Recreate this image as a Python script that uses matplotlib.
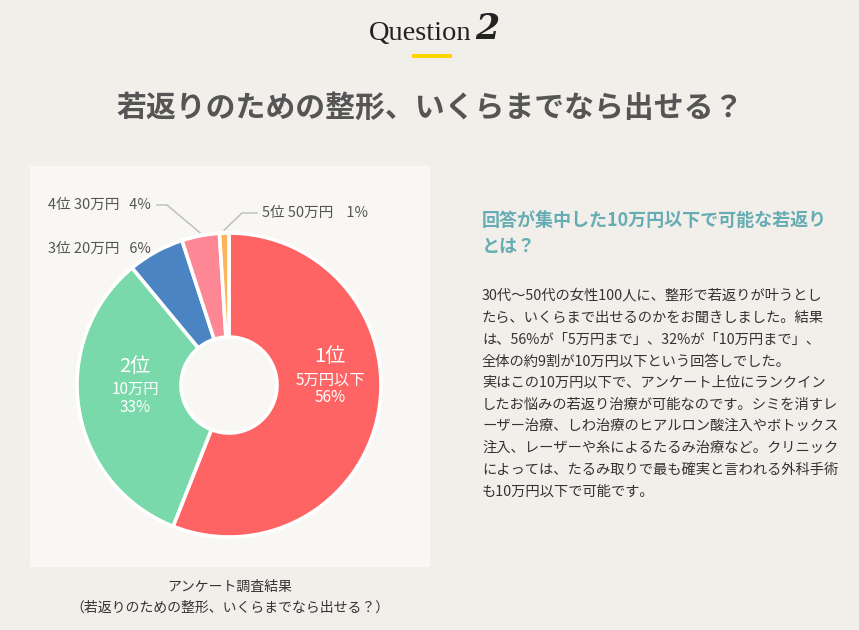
import numpy as np
import matplotlib
matplotlib.use("Agg")
import matplotlib.pyplot as plt
from matplotlib.patches import Rectangle

plt.rcParams['font.family'] = ['Noto Sans CJK JP', 'DejaVu Sans']

# ---- data ----
ranks = ["1位", "2位", "3位", "4位", "5位"]
amounts = ["5万円以下", "10万円", "20万円", "30万円", "50万円"]
values = [56, 33, 6, 4, 1]
colors = ["#fe6463", "#79d9ab", "#4a84c2", "#fd8794", "#fbb45c"]

title = "若返りのための整形、いくらまでなら出せる？"
heading = ["回答が集中した10万円以下で可能な若返り", "とは？"]
body = [
    "30代～50代の女性100人に、整形で若返りが叶うとし",
    "たら、いくらまで出せるのかをお聞きしました。結果",
    "は、56%が「5万円まで」、32%が「10万円まで」、",
    "全体の約9割が10万円以下という回答しでした。",
    "実はこの10万円以下で、アンケート上位にランクイン",
    "したお悩みの若返り治療が可能なのです。シミを消すレ",
    "ーザー治療、しわ治療のヒアルロン酸注入やボトックス",
    "注入、レーザーや糸によるたるみ治療など。クリニック",
    "によっては、たるみ取りで最も確実と言われる外科手術",
    "も10万円以下で可能です。",
]
caption = ["アンケート調査結果", "（若返りのための整形、いくらまでなら出せる？）"]

W, H = 859, 630
fig = plt.figure(figsize=(W / 100, H / 100), dpi=100)
fig.patch.set_facecolor("#f2efeb")

def px(x, y):
    return x / W, 1 - y / H

# panel
fig.patches.append(Rectangle(px(30, 567), 400 / W, 401 / H, transform=fig.transFigure,
                             facecolor="#f8f7f4", edgecolor="none", zorder=-5))

# Question 2
fig.text(*px(471, 33), "Question", family="Liberation Serif", fontsize=20.5, color="#222",
         ha="right", va="center")
fig.text(*px(475, 29), "2", family="DejaVu Serif", fontsize=25, style="italic",
         weight="bold", color="#222", ha="left", va="center")
fig.patches.append(Rectangle(px(412, 58), 40 / W, 4 / H, transform=fig.transFigure,
                             facecolor="#ffd400", edgecolor="none"))

fig.text(*px(430, 108), title, fontsize=21.5, weight="bold", color="#555555",
         ha="center", va="center")

# pie
cx, cy, R = 229, 385, 152
half = 165
ax = fig.add_axes([(cx - half) / W, (H - cy - half) / H, 2 * half / W, 2 * half / H])
ax.set_zorder(1)
ax.patch.set_visible(False)
inner = 48 / R
wedges, _ = ax.pie(values, colors=colors, startangle=90, counterclock=False,
                   radius=1.0, wedgeprops=dict(width=1 - inner, edgecolor="white", linewidth=2.6))
ax.set_xlim(-half / R, half / R)
ax.set_ylim(-half / R, half / R)
ax.set_aspect("equal")
ax.axis("off")

# inner labels
def lab(x, y, lines, sizes):
    for i, (t, s) in enumerate(zip(lines, sizes)):
        fig.text(*px(x, y[i]), t, fontsize=s, color="white", ha="center", va="center",
                 zorder=10)

lab(330, [357, 380, 398], [ranks[0], amounts[0], f"{values[0]}%"], [14.5, 11, 11])
lab(135, [367, 389, 408], [ranks[1], amounts[1], f"{values[1]}%"], [14.5, 11, 11])

# outer labels with leaders
def edge_point(w, r=1.0):
    ang = np.deg2rad((w.theta1 + w.theta2) / 2)
    return r * np.cos(ang), r * np.sin(ang)

def to_data(x, y):
    return (x - cx) / R, (cy - y) / R

fig.text(*px(48, 249), f"{ranks[2]} {amounts[2]}   {values[2]}%", fontsize=10.5,
         color="#555", ha="left", va="center")
fig.text(*px(48, 205), f"{ranks[3]} {amounts[3]}   {values[3]}%", fontsize=10.5,
         color="#555", ha="left", va="center")
fig.text(*px(262, 213), f"{ranks[4]} {amounts[4]}    {values[4]}%", fontsize=10.5,
         color="#555", ha="left", va="center")

p = edge_point(wedges[3], 1.02)
e1 = to_data(167, 205); e2 = to_data(157, 205)
ax.plot([p[0], e1[0], e2[0]], [p[1], e1[1], e2[1]], color="#bbbbbb", lw=1, clip_on=False)
p = edge_point(wedges[4], 1.02)
e1 = to_data(242, 213); e2 = to_data(257, 213)
ax.plot([p[0], e1[0], e2[0]], [p[1], e1[1], e2[1]], color="#bbbbbb", lw=1, clip_on=False)

# caption
fig.text(*px(230, 587), caption[0], fontsize=10, color="#333", ha="center", va="center")
fig.text(*px(230, 608), caption[1], fontsize=10, color="#333", ha="center", va="center")

# right text
fig.text(*px(482, 220), heading[0], fontsize=13, weight="bold", color="#66adb3",
         ha="left", va="center")
fig.text(*px(482, 246), heading[1], fontsize=13, weight="bold", color="#66adb3",
         ha="left", va="center")
for i, line in enumerate(body):
    fig.text(*px(482, 296 + i * 21.7), line, fontsize=10.3, color="#333",
             ha="left", va="center")

fig.savefig("out.png", dpi=100, facecolor=fig.get_facecolor())
